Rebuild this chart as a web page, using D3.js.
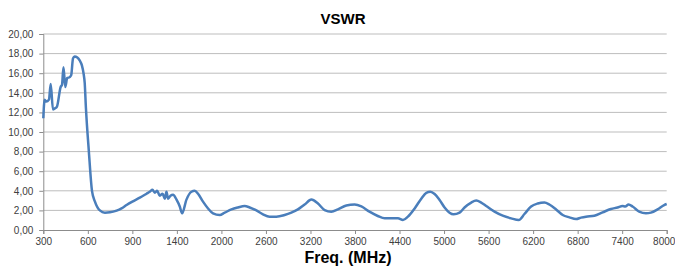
<!DOCTYPE html>
<html>
<head>
<meta charset="utf-8">
<script src="https://cdn.jsdelivr.net/npm/d3@7"></script>
<style>
  body { margin: 0; background: #fff; }
  text { font-family: "Liberation Sans", Arial, sans-serif; }
</style>
</head>
<body>
<div id="chart"></div>
<script>
// tick labels of the category axis (Excel-style, equally spaced)
var xTicks = [300, 600, 900, 1400, 2000, 2600, 3200, 3800, 4400, 5000, 5600, 6200, 6800, 7400, 8000];
var yTicks = [0, 2, 4, 6, 8, 10, 12, 14, 16, 18, 20];

// measured curve: frequency (MHz) and VSWR
var freq = [300, 309, 320, 338, 350, 365, 377, 392, 417, 426, 436, 448, 461, 478, 488, 500, 511, 529, 545, 560,
  571, 579, 587, 607, 628, 648, 681, 715, 749, 794, 827, 861, 900, 984, 1059, 1096, 1126, 1152, 1178, 1208,
  1239, 1264, 1283, 1301, 1328, 1357, 1396, 1439, 1470, 1529, 1596, 1641, 1685, 1752, 1820, 1887, 1977, 2044, 2135, 2223,
  2313, 2381, 2471, 2560, 2650, 2740, 2852, 2942, 3031, 3121, 3213, 3301, 3391, 3481, 3570, 3683, 3795, 3886, 3995,
  4107, 4200, 4290, 4379, 4446, 4513, 4604, 4693, 4761, 4815, 4873, 4940, 5007, 5074, 5128, 5209, 5276, 5366, 5433, 5500,
  5568, 5680, 5791, 5904, 6007, 6083, 6173, 6262, 6352, 6419, 6510, 6599, 6689, 6779, 6846, 6913, 7025, 7136, 7249, 7338,
  7405, 7442, 7486, 7540, 7630, 7720, 7787, 7876, 7966, 8000];
var vswr = [11.4, 13.3, 13.1, 13.3, 14.9, 12.3, 12.4, 12.6, 14.6, 14.8, 16.6, 14.6, 15.5, 15.6, 15.8, 17.5, 17.7, 17.6, 17.3, 16.8,
  16.0, 15.0, 12.5, 8.0, 4.0, 2.9, 2.0, 1.77, 1.8, 1.97, 2.2, 2.55, 2.9, 3.3, 3.7, 3.9, 4.1, 3.8, 4.0, 3.5,
  3.7, 3.2, 3.9, 3.2, 3.5, 3.6, 3.1, 2.4, 1.7, 3.1, 3.9, 4.0, 3.7, 2.9, 2.2, 1.7, 1.53, 1.77, 2.1, 2.3,
  2.45, 2.3, 2.0, 1.6, 1.36, 1.36, 1.53, 1.77, 2.1, 2.6, 3.1, 2.7, 2.04, 1.87, 2.1, 2.5, 2.6, 2.4, 1.87,
  1.43, 1.19, 1.19, 1.19, 1.02, 1.36, 2.2, 3.2, 3.8, 3.9, 3.67, 3.06, 2.3, 1.77, 1.6, 1.77, 2.3, 2.8, 3.0, 2.8,
  2.45, 1.87, 1.46, 1.19, 1.02, 1.63, 2.4, 2.7, 2.8, 2.6, 2.1, 1.53, 1.29, 1.12, 1.26, 1.36, 1.46, 1.8, 2.14, 2.3,
  2.45, 2.4, 2.6, 2.4, 1.87, 1.7, 1.77, 2.1, 2.55, 2.65];

var W = 675, H = 268;
var plotL = 43.3, plotR = 666.7, plotT = 34, plotB = 230;

var svg = d3.select("#chart").append("svg").attr("width", W).attr("height", H);

// polylinear scale: each labelled frequency sits on an equally spaced slot
var x = d3.scaleLinear()
    .domain(xTicks)
    .range(xTicks.map(function (d, i) { return plotL + i * (plotR - plotL) / (xTicks.length - 1); }));
var y = d3.scaleLinear().domain([0, 20]).range([plotB, plotT]);

var fmt = function (d) { return d3.format(".2f")(d).replace(".", ","); };

// gridlines
svg.append("g").selectAll("line").data(yTicks.slice(1)).enter().append("line")
    .attr("x1", plotL).attr("x2", plotR)
    .attr("y1", function (d) { return y(d); }).attr("y2", function (d) { return y(d); })
    .attr("stroke", "#bdbdbd").attr("stroke-width", 1);

// y axis
var yAxis = svg.append("g").attr("transform", "translate(" + plotL + ",0)")
    .call(d3.axisLeft(y).tickValues(yTicks).tickFormat(fmt).tickSize(4).tickPadding(6));
yAxis.select(".domain").attr("stroke", "#8c8c8c");
yAxis.selectAll(".tick line").attr("stroke", "#8c8c8c");
yAxis.selectAll("text").attr("font-size", 10).attr("fill", "#404040")
    .style("font-family", "'Liberation Sans', Arial, sans-serif");

// x axis
var xAxis = svg.append("g").attr("transform", "translate(0," + plotB + ")")
    .call(d3.axisBottom(x).tickValues(xTicks).tickFormat(d3.format("d")).tickSize(4).tickPadding(4));
xAxis.select(".domain").attr("stroke", "#8c8c8c");
xAxis.selectAll(".tick line").attr("stroke", "#8c8c8c");
xAxis.selectAll("text").attr("font-size", 10).attr("fill", "#404040")
    .style("font-family", "'Liberation Sans', Arial, sans-serif");
// keep the last label inside the picture
xAxis.selectAll(".tick text").filter(function (d) { return d === 8000; }).attr("dx", -3);

// the curve
var pts = freq.map(function (f, i) { return [f, vswr[i]]; });
svg.append("path")
    .datum(pts)
    .attr("fill", "none")
    .attr("stroke", "#4a7ebb")
    .attr("stroke-width", 2.5)
    .attr("stroke-linejoin", "round")
    .attr("d", d3.line()
        .x(function (d) { return x(d[0]); })
        .y(function (d) { return y(d[1]); })
        .curve(d3.curveMonotoneX));

// titles
svg.append("text")
    .attr("x", 343).attr("y", 24)
    .attr("text-anchor", "middle")
    .attr("font-size", 15).attr("font-weight", "bold")
    .attr("fill", "#000")
    .text("VSWR");

svg.append("text")
    .attr("x", 348).attr("y", 263)
    .attr("text-anchor", "middle")
    .attr("font-size", 16).attr("font-weight", "bold")
    .attr("fill", "#000")
    .text("Freq. (MHz)");
</script>
</body>
</html>
